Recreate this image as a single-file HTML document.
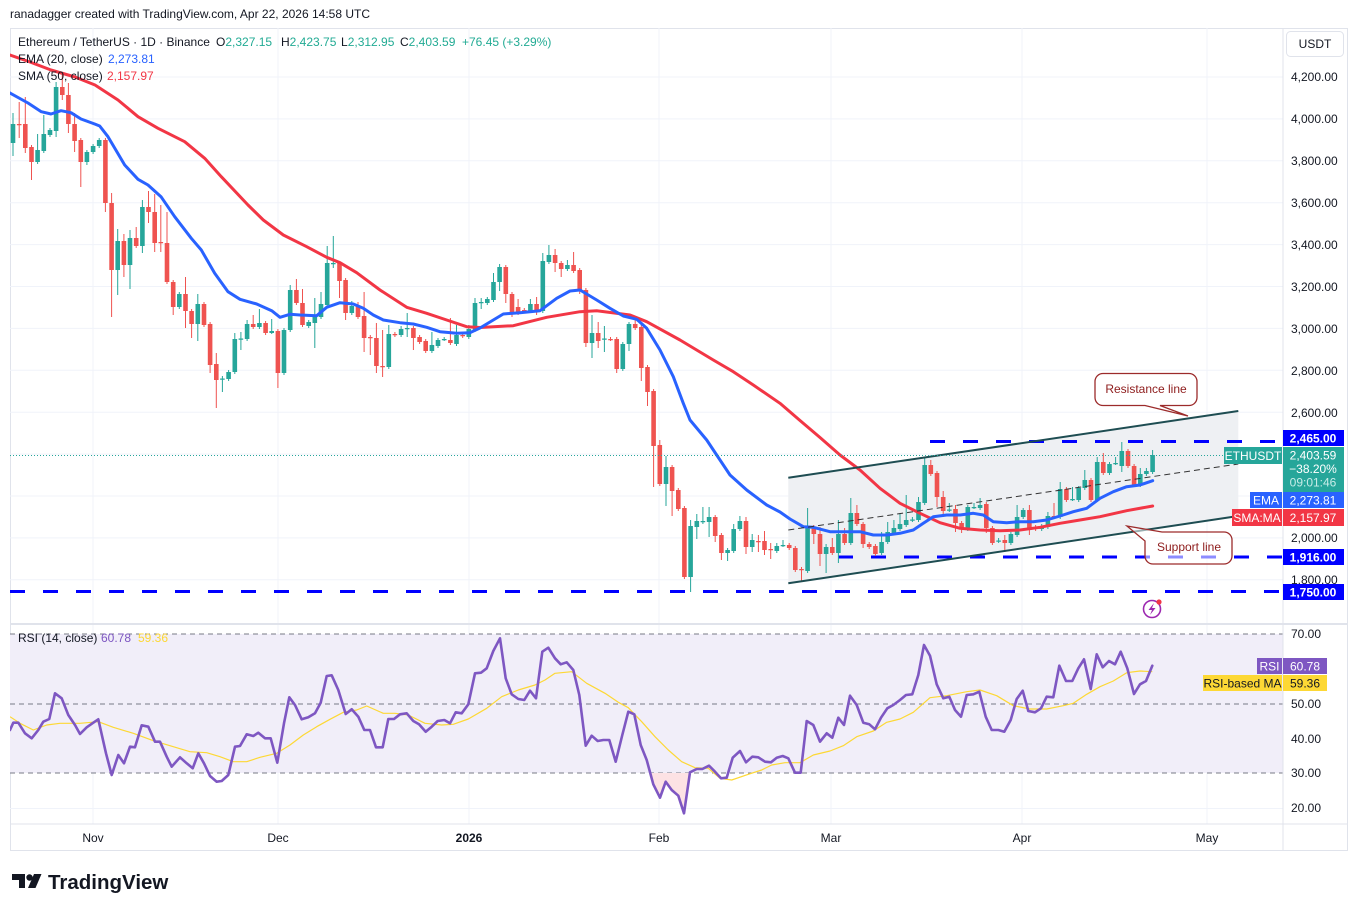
<!DOCTYPE html>
<html><head><meta charset="utf-8">
<style>
html,body{margin:0;padding:0;background:#fff;}
svg{display:block;font-family:"Liberation Sans",Arial,sans-serif;}
</style></head><body>
<svg width="1358" height="912" viewBox="0 0 1358 912" xmlns="http://www.w3.org/2000/svg">
<defs>
<clipPath id="mp"><rect x="10" y="28" width="1273" height="596"/></clipPath>
<clipPath id="rp"><rect x="10" y="625" width="1273" height="199"/></clipPath>
</defs>
<rect width="1358" height="912" fill="#fff"/>
<text x="10" y="18" font-size="12" fill="#131722">ranadagger created with TradingView.com, Apr 22, 2026 14:58 UTC</text>

<rect x="10.5" y="28.5" width="1337" height="822" fill="none" stroke="#e0e3eb"/>
<!-- grid -->
<path stroke="#f0f3fa" stroke-width="1" fill="none" d="M10 77H1283M10 118.9H1283M10 160.8H1283M10 202.7H1283M10 244.6H1283M10 286.5H1283M10 328.4H1283M10 370.3H1283M10 412.2H1283M10 454.1H1283M10 496H1283M10 537.9H1283M10 579.8H1283M10 669H1283M10 738.7H1283M10 808.5H1283M93 28V824M278 28V824M469 28V824M659 28V824M831 28V824M1022 28V824M1207 28V824"/>
<!-- RSI band -->
<rect x="10" y="634" width="1273" height="139" fill="#f1eef9"/>

<g clip-path="url(#mp)">
<polygon points="788.3,477.7 1238.3,411 1238.3,516 788.3,583.3" fill="#eef0f3"/>
<path stroke="#0000ff" stroke-width="3" stroke-dasharray="15 18" fill="none" d="M930 441.5H1283M838 557H1283M10 591.5H1283"/>

<!-- green wicks -->
<path stroke="#26a69a" stroke-width="1" fill="none" d="M13 113V156M37.6 134V164M43.8 115V153M50 128V137M56.1 82V137M86.9 150V165M93.1 144V154M99.2 138V148M117.7 229V295M130 230V289M142.4 200V253M179.3 292V309M197.8 294V341M222.4 376V392M228.6 370V381M234.8 333V374M240.9 332V350M247.1 320V341M259.4 309V329M271.7 319V334M284 328V375M290.2 285V332M308.7 320V328M314.8 298V348M321 292V319M327.2 246V307M333.3 236V268M351.8 301V315M388.8 325V369M401.1 326V337M407.2 313V337M431.9 332V353M438 338V348M444.2 337V341M456.5 325V346M468.8 325V339M475 298V332M481.2 298V309M487.3 297V305M493.5 273V302M499.6 264V291M530.4 299V313M542.8 253V313M548.9 245V264M567.4 260V271M592 315V358M604.4 326V352M622.8 342V371M629 322V351M666 456V506M690.6 520V592M696.8 514V539M702.9 507V524M709.1 507V537M727.6 548V561M733.7 524V553M739.9 516V531M752.2 534V552M776.8 543V553M783 540V547M807.6 508V573M826.1 544V573M838.4 520V563M850.8 498V545M881.6 532V555M887.7 522V544M893.9 520V535M900 513V531M906.2 495V527M912.4 517V522M918.5 497V522M924.7 458V505M949.3 503V512M967.8 505V531M974 503V509M980.1 498V510M998.6 538V543M1010.9 532V545M1017.1 505V537M1023.2 508V519M1041.7 524V531M1047.9 512V529M1060.2 482V519M1072.5 487V501M1078.7 486V502M1084.8 470V490M1097.2 457V502M1109.5 462V475M1115.6 457V465M1121.8 442V472M1140.3 468V487M1146.4 468V476M1152.6 450V474"/>
<!-- green bodies -->
<path fill="#26a69a" d="M10.7 124h4.6v19h-4.6zM35.3 150h4.6v12h-4.6zM41.5 134h4.6v17h-4.6zM47.7 130h4.6v5h-4.6zM53.8 87h4.6v44h-4.6zM84.6 152h4.6v10h-4.6zM90.8 146h4.6v6h-4.6zM96.9 140h4.6v6h-4.6zM115.4 241h4.6v29h-4.6zM127.7 238h4.6v27h-4.6zM140.1 207h4.6v39h-4.6zM177 294h4.6v13h-4.6zM195.5 304h4.6v20h-4.6zM220.1 378.5h4.6v1.2h-4.6zM226.3 372h4.6v7h-4.6zM232.5 339h4.6v33h-4.6zM238.6 338.5h4.6v1.2h-4.6zM244.8 324h4.6v15h-4.6zM257.1 323h4.6v4h-4.6zM269.4 331h4.6v2h-4.6zM281.7 330h4.6v43h-4.6zM287.9 290h4.6v40h-4.6zM306.4 322h4.6v4h-4.6zM312.5 317h4.6v6h-4.6zM318.7 304h4.6v13h-4.6zM324.9 263h4.6v42h-4.6zM331 263h4.6v1.2h-4.6zM349.5 306h4.6v7h-4.6zM386.5 334h4.6v33h-4.6zM398.8 329h4.6v6h-4.6zM404.9 328h4.6v1.2h-4.6zM429.6 345h4.6v6h-4.6zM435.7 340h4.6v6h-4.6zM441.9 339h4.6v1.2h-4.6zM454.2 335h4.6v9h-4.6zM466.5 329h4.6v8h-4.6zM472.7 303h4.6v27h-4.6zM478.9 302h4.6v1.2h-4.6zM485 299h4.6v4h-4.6zM491.2 282h4.6v18h-4.6zM497.3 267h4.6v15h-4.6zM528.1 304h4.6v7h-4.6zM540.5 261h4.6v50h-4.6zM546.6 255h4.6v7h-4.6zM565.1 265h4.6v4h-4.6zM589.7 333h4.6v10h-4.6zM602.1 338.5h4.6v1.2h-4.6zM620.5 344h4.6v25h-4.6zM626.7 324h4.6v20h-4.6zM663.7 467h4.6v17h-4.6zM688.3 526h4.6v51h-4.6zM694.5 521h4.6v6h-4.6zM700.6 521h4.6v1.2h-4.6zM706.8 517h4.6v5h-4.6zM725.3 550h4.6v3h-4.6zM731.4 529h4.6v22h-4.6zM737.6 521h4.6v8h-4.6zM749.9 540h4.6v7h-4.6zM774.5 546h4.6v5h-4.6zM780.7 545h4.6v1.2h-4.6zM805.3 528h4.6v43h-4.6zM823.8 547h4.6v7h-4.6zM836.1 534h4.6v19h-4.6zM848.5 513h4.6v30h-4.6zM879.3 542h4.6v11h-4.6zM885.4 532h4.6v10h-4.6zM891.6 528h4.6v5h-4.6zM897.7 524h4.6v5h-4.6zM903.9 520h4.6v5h-4.6zM910.1 519.5h4.6v1.2h-4.6zM916.2 502h4.6v18h-4.6zM922.4 465h4.6v38h-4.6zM947 509.5h4.6v1.2h-4.6zM965.5 507h4.6v22h-4.6zM971.7 507h4.6v1.2h-4.6zM977.8 505h4.6v3h-4.6zM996.3 540.5h4.6v1.2h-4.6zM1008.6 534h4.6v9h-4.6zM1014.8 517h4.6v18h-4.6zM1020.9 510h4.6v7h-4.6zM1039.4 526h4.6v3h-4.6zM1045.6 516h4.6v11h-4.6zM1057.9 489h4.6v28h-4.6zM1070.2 499h4.6v1.2h-4.6zM1076.4 488h4.6v12h-4.6zM1082.5 480h4.6v8h-4.6zM1094.9 462h4.6v38h-4.6zM1107.2 464h4.6v9h-4.6zM1113.3 463h4.6v1.2h-4.6zM1119.5 451h4.6v15h-4.6zM1138 474h4.6v11h-4.6zM1144.1 471h4.6v3h-4.6zM1150.3 455h4.6v17h-4.6z"/>
<!-- red wicks -->
<path stroke="#ef5350" stroke-width="1" fill="none" d="M19.2 102V138M25.3 97V153M31.5 145V180M62.3 73V100M68.4 83V133M74.6 113V152M80.8 138V187M105.4 138V212M111.6 193V317M123.9 234V277M136.2 227V248M148.5 191V223M154.7 194V252M160.8 205V252M167 212V284M173.2 280V315M185.5 277V328M191.6 309V338M204 302V327M210.1 322V373M216.3 353V408M253.2 315V329M265.6 321V335M277.9 329V388M296.4 279V305M302.5 289V327M339.5 261V298M345.6 278V320M358 302V319M364.1 292V352M370.3 335V355M376.4 323V373M382.6 330V377M394.9 332V337M413.4 326V350M419.6 335V344M425.7 339V353M450.4 318V345M462.7 333V338M505.8 265V303M512 292V317M518.1 299V315M524.3 308V312M536.6 297V315M555.1 249V272M561.2 261V277M573.6 252V273M579.7 268V294M585.9 288V347M598.2 322V348M610.5 337V341M616.7 337V373M635.2 319V330M641.3 325V381M647.5 365V406M653.6 389V487M659.8 440V486M672.1 465V516M678.3 488V511M684.4 506V579M715.2 515V542M721.4 533V560M746 517V554M758.4 535V552M764.5 531V555M770.7 543V559M789.2 543V550M795.3 546V572M801.5 567V581M813.8 525V544M820 527V566M832.3 538V555M844.6 528V545M856.9 505V526M863.1 522V548M869.2 542V549M875.4 544V556M930.8 460V476M937 471V507M943.2 491V517M955.5 505V532M961.6 521V533M986.3 502V533M992.4 526V545M1004.8 535V552M1029.4 505V535M1035.6 525V531M1054 503V518M1066.4 487V502M1091 478V502M1103.3 453V475M1128 449V468M1134.1 464V487"/>
<!-- red bodies -->
<path fill="#ef5350" d="M16.9 124h4.6v1.2h-4.6zM23 124h4.6v24h-4.6zM29.2 147h4.6v15h-4.6zM60 87h4.6v8h-4.6zM66.1 95h4.6v29h-4.6zM72.3 124h4.6v17h-4.6zM78.5 140h4.6v22h-4.6zM103.1 140h4.6v63h-4.6zM109.3 203h4.6v67h-4.6zM121.6 241h4.6v24h-4.6zM133.9 238h4.6v8h-4.6zM146.2 207h4.6v5h-4.6zM152.4 212h4.6v31h-4.6zM158.5 242h4.6v1.2h-4.6zM164.7 243h4.6v39h-4.6zM170.9 282h4.6v25h-4.6zM183.2 294h4.6v17h-4.6zM189.3 311h4.6v13h-4.6zM201.7 304h4.6v21h-4.6zM207.8 324h4.6v41h-4.6zM214 364h4.6v16h-4.6zM250.9 324h4.6v3h-4.6zM263.3 323h4.6v10h-4.6zM275.6 331h4.6v42h-4.6zM294.1 290h4.6v13h-4.6zM300.2 303h4.6v22h-4.6zM337.2 263h4.6v18h-4.6zM343.3 280h4.6v33h-4.6zM355.7 306h4.6v11h-4.6zM361.8 316h4.6v22h-4.6zM368 337h4.6v1.2h-4.6zM374.1 338h4.6v28h-4.6zM380.3 366h4.6v1.2h-4.6zM392.6 334h4.6v1.2h-4.6zM411.1 328h4.6v10h-4.6zM417.3 337h4.6v5h-4.6zM423.4 341h4.6v10h-4.6zM448.1 340h4.6v3h-4.6zM460.4 335h4.6v1.2h-4.6zM503.5 267h4.6v27h-4.6zM509.7 294h4.6v19h-4.6zM515.8 307h4.6v6h-4.6zM522 310h4.6v1.2h-4.6zM534.3 304h4.6v7h-4.6zM552.8 255h4.6v8h-4.6zM558.9 263h4.6v6h-4.6zM571.3 265h4.6v6h-4.6zM577.4 270h4.6v21h-4.6zM583.6 290h4.6v53h-4.6zM595.9 333h4.6v8h-4.6zM608.2 339h4.6v1.2h-4.6zM614.4 339h4.6v30h-4.6zM632.9 324h4.6v4h-4.6zM639 327h4.6v41h-4.6zM645.2 367h4.6v25h-4.6zM651.3 391h4.6v55h-4.6zM657.5 445h4.6v39h-4.6zM669.8 467h4.6v24h-4.6zM676 490h4.6v19h-4.6zM682.1 508h4.6v69h-4.6zM712.9 517h4.6v19h-4.6zM719.1 535h4.6v18h-4.6zM743.7 521h4.6v26h-4.6zM756.1 541h4.6v1.2h-4.6zM762.2 541h4.6v9h-4.6zM768.4 549h4.6v1.2h-4.6zM786.9 545h4.6v3h-4.6zM793 548h4.6v22h-4.6zM799.2 569h4.6v1.2h-4.6zM811.5 527h4.6v7h-4.6zM817.7 534h4.6v20h-4.6zM830 547h4.6v6h-4.6zM842.3 534h4.6v9h-4.6zM854.6 513h4.6v11h-4.6zM860.8 524h4.6v20h-4.6zM866.9 544h4.6v3h-4.6zM873.1 546h4.6v8h-4.6zM928.5 465h4.6v9h-4.6zM934.7 473h4.6v24h-4.6zM940.9 497h4.6v14h-4.6zM953.2 509h4.6v14h-4.6zM959.3 523h4.6v6h-4.6zM984 504h4.6v24h-4.6zM990.1 528h4.6v15h-4.6zM1002.5 540h4.6v3h-4.6zM1027.1 510h4.6v20h-4.6zM1033.3 527h4.6v2h-4.6zM1051.7 516h4.6v1.2h-4.6zM1064.1 489h4.6v11h-4.6zM1088.7 480h4.6v20h-4.6zM1101 462h4.6v11h-4.6zM1125.7 451h4.6v15h-4.6zM1131.8 466h4.6v19h-4.6z"/>

<!-- SMA -->
<polyline fill="none" stroke="#f23645" stroke-width="3" stroke-linejoin="round" stroke-linecap="round" points="10,55 30,62 51,70 75,77 95,85 118,100 138,116.7 158,128.3 184.7,141.7 204.7,158.3 221.3,176.7 248,205 263.3,220 283.3,235 306.7,246.7 326.7,257.3 340,262.7 356.7,272.7 380,290 406.7,307.3 426.7,313.3 446.7,320 466.7,326.7 480,327.5 513.3,325.7 546.7,317.3 580,311.7 596.7,310.7 630,315 646.7,321.7 680,340 713.3,360 733.3,371.7 753.3,385 780,403.3 800,420.5 820,437.5 840,455 860,470 880,488.3 900,503.3 920,513.3 940,522.7 960,528.3 980,530 1000,530.7 1020,530 1040,527.3 1060,523.3 1080,520 1100,516.7 1126.7,510.7 1152.7,506"/>
<!-- EMA -->
<polyline fill="none" stroke="#2962ff" stroke-width="3" stroke-linejoin="round" stroke-linecap="round" points="10,93 28,103 41.3,111.7 51,114 61,110.7 71,112.7 81,119 94.7,124 99.7,126 108,136.7 124.7,165 138,179.3 148,185 161,196.7 174.7,216.7 191.3,238.3 201.3,250 214.7,273.3 228,291.7 240,299.3 256.7,304 271.7,310.7 280,317.3 290,314.3 300,315 316.7,315.7 326.7,307.3 340,302.7 353.3,304 363.3,308.3 373.3,315 383.3,320 400,322.7 413.3,324 426.7,327.3 440,331.7 456.7,333.3 470,332.7 480,328 493.3,320 503.3,314 520,312.7 540,310.7 556.7,298.3 570,291 580,290 596.7,300 610,308.3 623.3,316 636.7,319.3 646.7,328.3 660,350 673.3,376.7 683.3,403.3 690,420 706.7,440 720,460 730,475 746.7,490 766.7,505 780,512 790,519 803.3,526.7 813.3,527.3 830,531.7 846.7,531.7 860,531.7 873.3,535 886.7,535 900,533.3 913.3,530 923.3,523.3 933.3,516.7 946.7,515 960,515 973.3,513.3 983.3,515 993.3,521.7 1006.7,522.7 1020,521.7 1033.3,521.7 1046.7,520 1060,516 1073.3,511.7 1086.7,508.3 1100,498.3 1113.3,491.7 1126.7,486.7 1140,485 1152.7,480.7"/>

<!-- channel -->
<line x1="788.3" y1="477.7" x2="1238.3" y2="411" stroke="#1e4d52" stroke-width="2"/>
<line x1="788.3" y1="583.3" x2="1238.3" y2="516" stroke="#1e4d52" stroke-width="2"/>
<line x1="788.3" y1="530" x2="1238.3" y2="464" stroke="#333" stroke-width="1" stroke-dasharray="6 4"/>
<line x1="10" y1="455.5" x2="1224" y2="455.5" stroke="#26a69a" stroke-width="1" stroke-dasharray="1 2"/>
</g>

<!-- RSI -->
<g clip-path="url(#rp)">
<path stroke="#787b86" stroke-width="1" stroke-dasharray="5 4" fill="none" d="M10 634H1283M10 704H1283M10 773H1283"/>
<polygon points="649,773 653.3,784.3 660,797.7 665.7,781.7 671.7,790 678.3,795.7 684,813.3 689,773" fill="#fde2e4"/>
<polyline fill="none" stroke="#fdd835" stroke-width="1.2" stroke-linejoin="round" points="10,716.7 20,723.3 33.3,730 46.7,725 60,723.3 80,723.3 98.3,721.7 113.3,727.3 133.3,733.3 153.3,740.7 173.3,746.7 190,751.7 206.7,752.7 220,756.7 233.3,761.7 246.7,761.7 260,757.3 276.7,753.3 290,745 303.3,735 316.7,726.7 330,719.3 343.3,712.3 356.7,710 366.7,706 383.3,713.3 395,713.3 408.3,715 425,723.3 441.7,725 453.3,724.3 468.3,719 486.7,708.3 501.7,696.7 518.3,690 535,685 545,680 555,673.3 571.7,671.7 586.7,683.3 605,693.3 618.3,702.3 628.3,707.7 641.7,721.7 655,736.7 668.3,750 681.7,761.7 695,767.7 708.3,768.3 720,778.3 731.7,780 748.3,774.3 761.7,770 771.7,765 785,762.7 800,762.7 813.3,755 830,751 843.3,745.7 856.7,736.7 873.3,731 886.7,722.3 900,719 913.3,712.3 930,697.7 946.7,695.7 966.7,691.7 980,690 996.7,695.7 1013.3,705.7 1030,709 1046.7,709 1063.3,705.7 1073.3,703.3 1086.7,694.3 1100,686.7 1113.3,681 1126.7,672.7 1140,671 1152.3,671.7"/>
<polyline fill="none" stroke="#7e57c2" stroke-width="2.6" stroke-linejoin="round" stroke-linecap="round" points="10,730 13.3,722.7 18.3,722.7 25,733.3 31.7,738.3 38.3,730 43.3,721.7 49.3,719 55,693.3 61.7,698.3 68.3,715 75,725 80,734 86.7,727.3 93.3,722.7 98.3,719.3 106,753.3 111.7,775 118.3,755 124,763.3 130,746.7 135,747.3 141.7,725.3 148.3,726.7 155,741.7 160,741.7 166.7,756.7 171.7,766.7 180,757.3 186.7,763.3 192.7,768.3 198.3,753.3 204,763.3 210,776 216.7,781.7 221.7,781 228.3,775 235,746.7 240,746 246.7,734.3 253.3,736 258.3,732.7 265,738.3 270.7,738.3 277.3,762.7 284,723.3 289.3,697.3 295,705 301.7,719.3 308.3,717.3 315,713.3 320.7,702.7 326.7,676 331.7,675.3 338.3,690 345.7,714 351.7,709.3 358.3,716.7 364.3,730 370,730 376,747.3 382.7,747.3 388.3,719 394,719 400,714.3 406.7,713.3 413.3,721 419,724.3 425.7,731.7 431.7,726.7 437.7,721 444.3,720 450,723.3 455.7,712.3 461.7,713.3 468.3,704.3 475,673.3 481,672.7 486.7,668.3 493.3,651 500,638.3 505.7,678.3 511.7,694.3 518.3,699 524.3,700 530,690.7 536,698.3 542.3,651.7 548.3,647.7 555,658.3 560.7,664.3 566.7,662.3 573.3,670 579.3,695 585.7,745.7 591.7,735.7 597.7,741 603.3,740 609.3,740 615.7,761.7 622.3,735 628.3,711.7 634.3,714.3 640.7,745 646.7,760 653.3,784.3 660,797.7 665.7,781.7 671.7,790 678.3,795.7 684,813.3 690,772.3 696.7,769 702.3,769 709,765.7 715,771.7 721,778.3 726.7,777.7 732.7,757.7 740,751 746,762.3 752.3,756.7 758.3,757.3 765,761.7 771,762.3 776.7,757.7 782.7,756 788.3,758.3 795,772.7 800.7,772.7 806.7,721 813.3,725 820,741.7 826.7,733.3 832.3,737.7 838.3,717.7 844,725 850,695.7 856.7,705 863.3,722.7 869.3,724.3 875,729.3 881,717.7 887.3,708.3 893.3,705 900,700 906,695 912.3,694.3 918.3,675 924,645 930,655.7 936.7,684.3 943.3,698.3 949.3,696.7 955,710 961,716.7 966.7,695 973.3,694.3 979.3,691.7 985.7,716.7 991.7,730 998.3,730 1004.3,731.7 1010.7,720 1016.7,699 1022.7,690.7 1028.3,711 1035,712.3 1041,708.3 1046.7,696.7 1053.3,697.3 1059.3,665.7 1066,681 1072.3,681 1078.3,668.3 1084,659.3 1090.7,689 1096.7,654.3 1102.7,667.3 1109,661 1115,664.3 1120.7,651.7 1127.3,668.3 1134,694 1140,684.3 1146,681 1152.3,665.7"/>
</g>

<line x1="1283" y1="28" x2="1283" y2="851" stroke="#e0e3eb"/>
<line x1="10" y1="624" x2="1348" y2="624" stroke="#e0e3eb" stroke-width="2"/>
<line x1="10" y1="824" x2="1348" y2="824" stroke="#e0e3eb"/>

<!-- legend -->
<g font-size="12" fill="#131722">
<text x="18" y="46">Ethereum / TetherUS · 1D · Binance</text>
<text x="216" y="46">O<tspan fill="#22ab94">2,327.15</tspan></text>
<text x="281" y="46">H<tspan fill="#22ab94">2,423.75</tspan></text>
<text x="341" y="46">L<tspan fill="#22ab94">2,312.95</tspan></text>
<text x="400" y="46">C<tspan fill="#22ab94">2,403.59</tspan></text>
<text x="462" y="46" fill="#22ab94">+76.45 (+3.29%)</text>
<text x="18" y="63">EMA (20, close)</text>
<text x="108" y="63" fill="#2962ff">2,273.81</text>
<text x="18" y="80">SMA (50, close)</text>
<text x="107" y="80" fill="#f23645">2,157.97</text>
<text x="18" y="642">RSI (14, close)</text>
<text x="101" y="642" fill="#7e57c2">60.78</text>
<text x="138" y="642" fill="#fdd835">59.36</text>
</g>

<rect x="1286.5" y="31.5" width="57" height="25" rx="4" fill="#fff" stroke="#e0e3eb"/>
<text x="1315" y="48" font-size="12" fill="#131722" text-anchor="middle">USDT</text>

<g font-size="12" fill="#131722">
<text x="1291" y="81">4,200.00</text>
<text x="1291" y="123">4,000.00</text>
<text x="1291" y="165">3,800.00</text>
<text x="1291" y="207">3,600.00</text>
<text x="1291" y="249">3,400.00</text>
<text x="1291" y="291">3,200.00</text>
<text x="1291" y="333">3,000.00</text>
<text x="1291" y="375">2,800.00</text>
<text x="1291" y="417">2,600.00</text>
<text x="1291" y="542">2,000.00</text>
<text x="1291" y="584">1,800.00</text>
<text x="1291" y="638">70.00</text>
<text x="1291" y="708">50.00</text>
<text x="1291" y="743">40.00</text>
<text x="1291" y="777">30.00</text>
<text x="1291" y="812">20.00</text>
</g>
<g font-size="12" fill="#131722" text-anchor="middle">
<text x="93" y="842">Nov</text>
<text x="278" y="842">Dec</text>
<text x="469" y="842" font-weight="bold">2026</text>
<text x="659" y="842">Feb</text>
<text x="831" y="842">Mar</text>
<text x="1022" y="842">Apr</text>
<text x="1207" y="842">May</text>
</g>

<path d="M1103 373.5 H1189 A8 8 0 0 1 1197 381.5 V397.5 A8 8 0 0 1 1189 405.5 H1160 L1188 416 L1145 405.5 H1103 A8 8 0 0 1 1095 397.5 V381.5 A8 8 0 0 1 1103 373.5 Z" fill="#fff" stroke="#9c2b2b" stroke-width="1.3"/>
<text x="1146" y="393" font-size="12" fill="#8e1c1c" text-anchor="middle">Resistance line</text>
<path d="M1145 541 L1127 526 L1162 532 H1224 A8 8 0 0 1 1232 540 V556 A8 8 0 0 1 1224 564 H1153 A8 8 0 0 1 1145 556 Z" fill="rgba(255,255,255,0.55)" stroke="#9c2b2b" stroke-width="1.3"/>
<text x="1189" y="551" font-size="12" fill="#8e1c1c" text-anchor="middle">Support line</text>

<circle cx="1152" cy="609" r="8.5" fill="#fff" stroke="#9c27b0" stroke-width="1.6"/>
<path d="M1154 603 L1148.5 610 H1152 L1150 615 L1155.5 608 H1152 Z" fill="#9c27b0"/>
<circle cx="1159" cy="602" r="2.6" fill="#f23645"/>

<g font-size="12">
<rect x="1283" y="430" width="61" height="16" fill="#0000ff"/>
<text x="1313" y="442.5" fill="#fff" text-anchor="middle" font-weight="bold">2,465.00</text>
<rect x="1224" y="447" width="58" height="17" fill="#26a69a"/>
<text x="1253" y="460" fill="#fff" text-anchor="middle">ETHUSDT</text>
<rect x="1283" y="447" width="61" height="45" fill="#26a69a"/>
<text x="1313" y="459.5" fill="#fff" text-anchor="middle">2,403.59</text>
<text x="1313" y="473" fill="#fff" text-anchor="middle">−38.20%</text>
<text x="1313" y="486.5" fill="#c8ece8" text-anchor="middle">09:01:46</text>
<rect x="1250" y="492" width="32" height="16" fill="#2962ff"/>
<text x="1266" y="504.5" fill="#fff" text-anchor="middle">EMA</text>
<rect x="1283" y="492" width="61" height="16" fill="#2962ff"/>
<text x="1313" y="504.5" fill="#fff" text-anchor="middle">2,273.81</text>
<rect x="1232" y="509" width="50" height="17" fill="#f23645"/>
<text x="1257" y="522" fill="#fff" text-anchor="middle">SMA:MA</text>
<rect x="1283" y="509" width="61" height="17" fill="#f23645"/>
<text x="1313" y="522" fill="#fff" text-anchor="middle">2,157.97</text>
<rect x="1283" y="549" width="61" height="16" fill="#0000ff"/>
<text x="1313" y="561.5" fill="#fff" text-anchor="middle" font-weight="bold">1,916.00</text>
<rect x="1283" y="584" width="61" height="16" fill="#0000ff"/>
<text x="1313" y="596.5" fill="#fff" text-anchor="middle" font-weight="bold">1,750.00</text>
<rect x="1257" y="658" width="25" height="16" fill="#7e57c2"/>
<text x="1269.5" y="670.5" fill="#fff" text-anchor="middle">RSI</text>
<rect x="1283" y="658" width="44" height="16" fill="#7e57c2"/>
<text x="1305" y="670.5" fill="#fff" text-anchor="middle">60.78</text>
<rect x="1203" y="675" width="79" height="16" fill="#fdd835"/>
<text x="1242.5" y="687.5" fill="#131722" text-anchor="middle">RSI-based MA</text>
<rect x="1283" y="675" width="44" height="16" fill="#fdd835"/>
<text x="1305" y="687.5" fill="#131722" text-anchor="middle">59.36</text>
</g>

<g fill="#131722">
<path d="M12 874 H25 V888 H19 V880 H12 Z"/>
<circle cx="29.5" cy="877.5" r="3.2"/>
<path d="M34 874 H41.5 L35.5 888 H28 Z"/>
</g>
<text x="48" y="889" font-size="20.5" font-weight="bold" fill="#131722">TradingView</text>
</svg>
</body></html>
